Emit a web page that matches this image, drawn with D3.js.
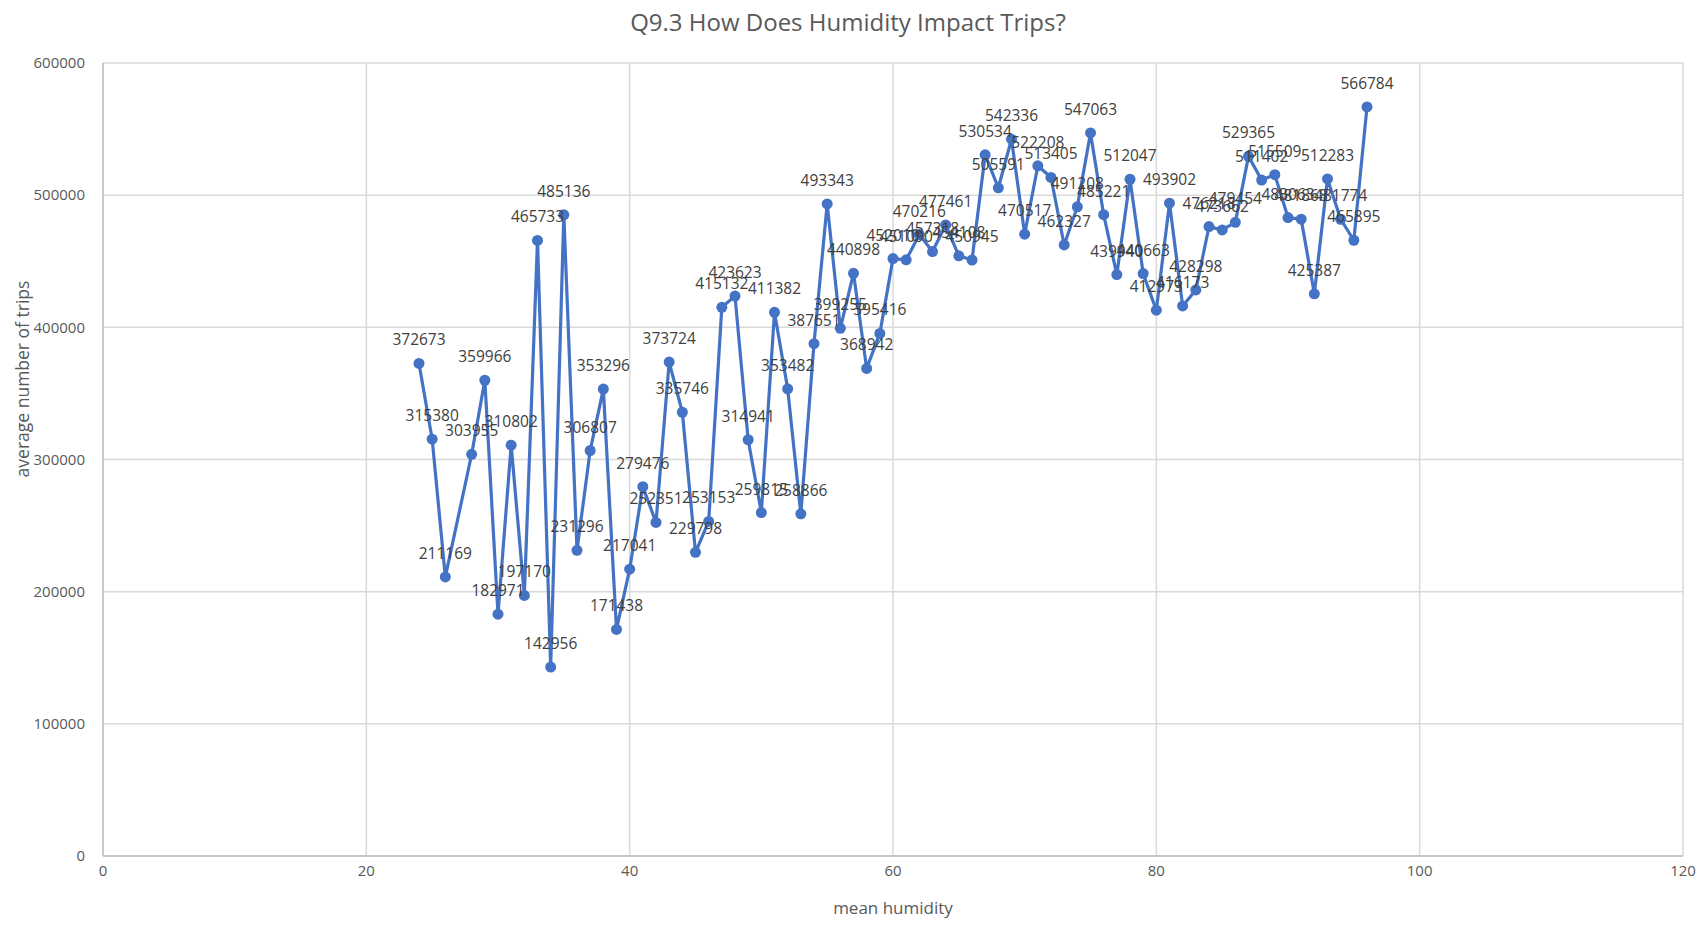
<!DOCTYPE html>
<html>
<head>
<meta charset="utf-8">
<script src="https://cdn.jsdelivr.net/npm/d3@7"></script>
<style>
  body { margin: 0; background: #fff; }
  text { font-family: "Open Sans", "Noto Sans", sans-serif; }
  .grid line { stroke: #d9d9d9; stroke-width: 1.5; }
  .label { fill: #404040; font-size: 15.5px; }
  .tick-label { fill: #595959; font-size: 15px; }
</style>
</head>
<body>
<svg class="chart"></svg>
<script>
// DATA /////////////////////////////////////////
const humidity = [24, 25, 26, 28, 29, 30, 31, 32, 33, 34, 35, 36, 37, 38, 39, 40,
  41, 42, 43, 44, 45, 46, 47, 48, 49, 50, 51, 52, 53, 54, 55, 56, 57, 58, 59, 60,
  61, 62, 63, 64, 65, 66, 67, 68, 69, 70, 71, 72, 73, 74, 75, 76, 77, 78, 79, 80,
  81, 82, 83, 84, 85, 86, 87, 88, 89, 90, 91, 92, 93, 94, 95, 96];
const trips = [372673, 315380, 211169, 303955, 359966, 182971, 310802, 197170,
  465733, 142956, 485136, 231296, 306807, 353296, 171438, 217041, 279476, 252351,
  373724, 335746, 229798, 253153, 415132, 423623, 314941, 259815, 411382, 353482,
  258866, 387651, 493343, 399255, 440898, 368942, 395416, 452010, 451090, 470216,
  457318, 477461, 454108, 450945, 530534, 505591, 542336, 470517, 522208, 513405,
  462327, 491208, 547063, 485221, 439940, 512047, 440663, 412973, 493902, 416173,
  428298, 476218, 473662, 479454, 529365, 511402, 515509, 483063, 481868, 425387,
  512283, 481774, 465895, 566784];
const xTicks = [0, 20, 40, 60, 80, 100, 120];
const yTicks = [0, 100000, 200000, 300000, 400000, 500000, 600000];

const points = humidity.map((h, i) => ({ h, v: trips[i] }));

// LAYOUT ///////////////////////////////////////
const W = 1704, H = 929;
const plot = { left: 103, right: 1683, top: 63, bottom: 856 };
const blue = "#4472c4";

const svg = d3.select(".chart").attr("width", W).attr("height", H);

const x = d3.scaleLinear().domain([0, 120]).range([plot.left, plot.right]);
const y = d3.scaleLinear().domain([0, 600000]).range([plot.bottom, plot.top]);

// GRID /////////////////////////////////////////
const grid = svg.append("g").attr("class", "grid");
grid.selectAll(".vx").data(xTicks).enter().append("line")
  .attr("x1", d => x(d)).attr("x2", d => x(d))
  .attr("y1", plot.top).attr("y2", plot.bottom);
grid.selectAll(".hy").data(yTicks).enter().append("line")
  .attr("x1", plot.left).attr("x2", plot.right)
  .attr("y1", d => y(d)).attr("y2", d => y(d));

// axis lines, a bit darker
svg.append("line").attr("x1", plot.left).attr("x2", plot.left)
  .attr("y1", plot.top).attr("y2", plot.bottom)
  .attr("stroke", "#bfbfbf").attr("stroke-width", 1.5);
svg.append("line").attr("x1", plot.left).attr("x2", plot.right)
  .attr("y1", plot.bottom).attr("y2", plot.bottom)
  .attr("stroke", "#bfbfbf").attr("stroke-width", 1.5);

// tick labels
svg.selectAll(".xt").data(xTicks).enter().append("text")
  .attr("class", "tick-label")
  .attr("x", d => x(d)).attr("y", plot.bottom + 20)
  .attr("text-anchor", "middle")
  .text(d => d);
svg.selectAll(".yt").data(yTicks).enter().append("text")
  .attr("class", "tick-label")
  .attr("x", plot.left - 18).attr("y", d => y(d))
  .attr("dy", "0.35em")
  .attr("text-anchor", "end")
  .text(d => d);

// SERIES ///////////////////////////////////////
const line = d3.line().x(d => x(d.h)).y(d => y(d.v));
svg.append("path").datum(points)
  .attr("d", line)
  .attr("fill", "none")
  .attr("stroke", blue)
  .attr("stroke-width", 3.2)
  .attr("stroke-linejoin", "round");

svg.selectAll(".dot").data(points).enter().append("circle")
  .attr("cx", d => x(d.h)).attr("cy", d => y(d.v))
  .attr("r", 5.5)
  .attr("fill", blue);

svg.selectAll(".lbl").data(points).enter().append("text")
  .attr("class", "label")
  .attr("x", d => x(d.h)).attr("y", d => y(d.v) - 18)
  .attr("text-anchor", "middle")
  .text(d => d.v);

// TITLES ///////////////////////////////////////
svg.append("text")
  .attr("x", 848).attr("y", 31)
  .attr("text-anchor", "middle")
  .attr("fill", "#595959")
  .style("font-size", "24px")
  .text("Q9.3 How Does Humidity Impact Trips?");

svg.append("text")
  .attr("x", (plot.left + plot.right) / 2).attr("y", 914)
  .attr("text-anchor", "middle")
  .attr("fill", "#595959")
  .style("font-size", "17px")
  .text("mean humidity");

svg.append("text")
  .attr("transform", "translate(29, 379) rotate(-90)")
  .attr("text-anchor", "middle")
  .attr("fill", "#595959")
  .style("font-size", "17.5px")
  .text("average number of trips");
</script>
</body>
</html>
